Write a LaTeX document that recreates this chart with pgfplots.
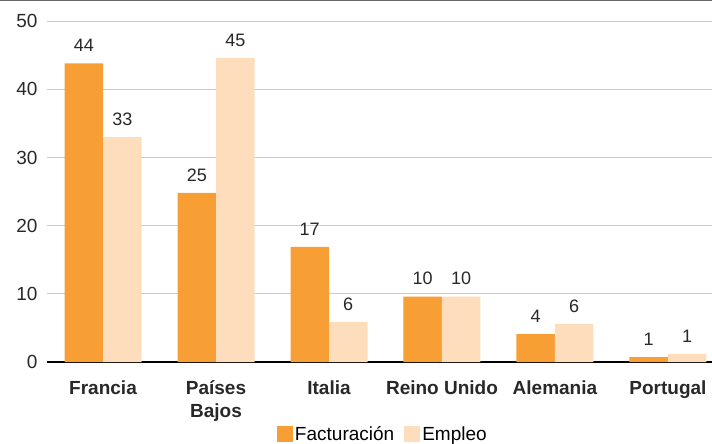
\documentclass[border=0pt]{standalone}
\usepackage{pgfplots}
\pgfplotsset{compat=1.18}
\usepackage{fontspec}
\setmainfont{Liberation Sans}
\definecolor{fact}{RGB}{247,158,52}
\definecolor{empl}{RGB}{253,221,187}
\definecolor{gridc}{RGB}{204,204,204}
\definecolor{txt}{RGB}{40,40,40}

\begin{document}
\begin{tikzpicture}
\begin{axis}[
    name=ax,
    scale only axis,
    width=665pt, height=362pt,
    ybar=0pt, bar width=38.5pt,
    xmin=-0.496, xmax=5.39,
    ymin=0, ymax=53.1,
    xtick=data,
    xticklabels={Francia, {Países\\Bajos}, Italia, Reino Unido, Alemania, Portugal},
    xticklabel style={font=\fontsize{19}{23}\selectfont\bfseries, align=center, text=txt, yshift=-15pt, anchor=north},
    ytick={0,10,...,50},
    yticklabel style={font=\fontsize{19}{22}\selectfont, text=txt, xshift=-6pt},
    /pgf/number format/assume math mode=true,
    ymajorgrids, grid style={gridc, line width=0.8pt},
    axis x line*=bottom, axis y line*=left,
    y axis line style={draw=none},
    x axis line style={black, line width=2.5pt, -},
    major tick length=0pt,
    clip=false,
    nodes near coords={\pgfmathprintnumber[fixed,precision=0]{\pgfplotspointmeta}},
    nodes near coords style={font=\fontsize{18}{21}\selectfont, text=txt, yshift=8pt},
    legend style={at={(0.505,-0.2)}, anchor=center, draw=none, fill=none,
        legend columns=2, font=\fontsize{19}{22}\selectfont,
        /tikz/every even column/.append style={column sep=8pt}},
    legend image code/.code={\fill[#1] (0pt,-8pt) rectangle (16pt,8pt);},
]
\addplot[fill=fact, draw=none] coordinates {(0,43.8) (1,24.8) (2,16.9) (3,9.6) (4,4.1) (5,0.7)};
\addplot[fill=empl, draw=none] coordinates {(0,33.0) (1,44.6) (2,5.9) (3,9.6) (4,5.6) (5,1.2)};
\legend{Facturación, Empleo}
\draw[gray!80!black, line width=1.2pt] ([xshift=-47pt]rel axis cs:0,1) -- (rel axis cs:1,1);
\end{axis}
\pgfresetboundingbox
\path[use as bounding box] ([xshift=-47pt,yshift=-82pt]ax.south west) rectangle (ax.north east);
\end{tikzpicture}
\end{document}
